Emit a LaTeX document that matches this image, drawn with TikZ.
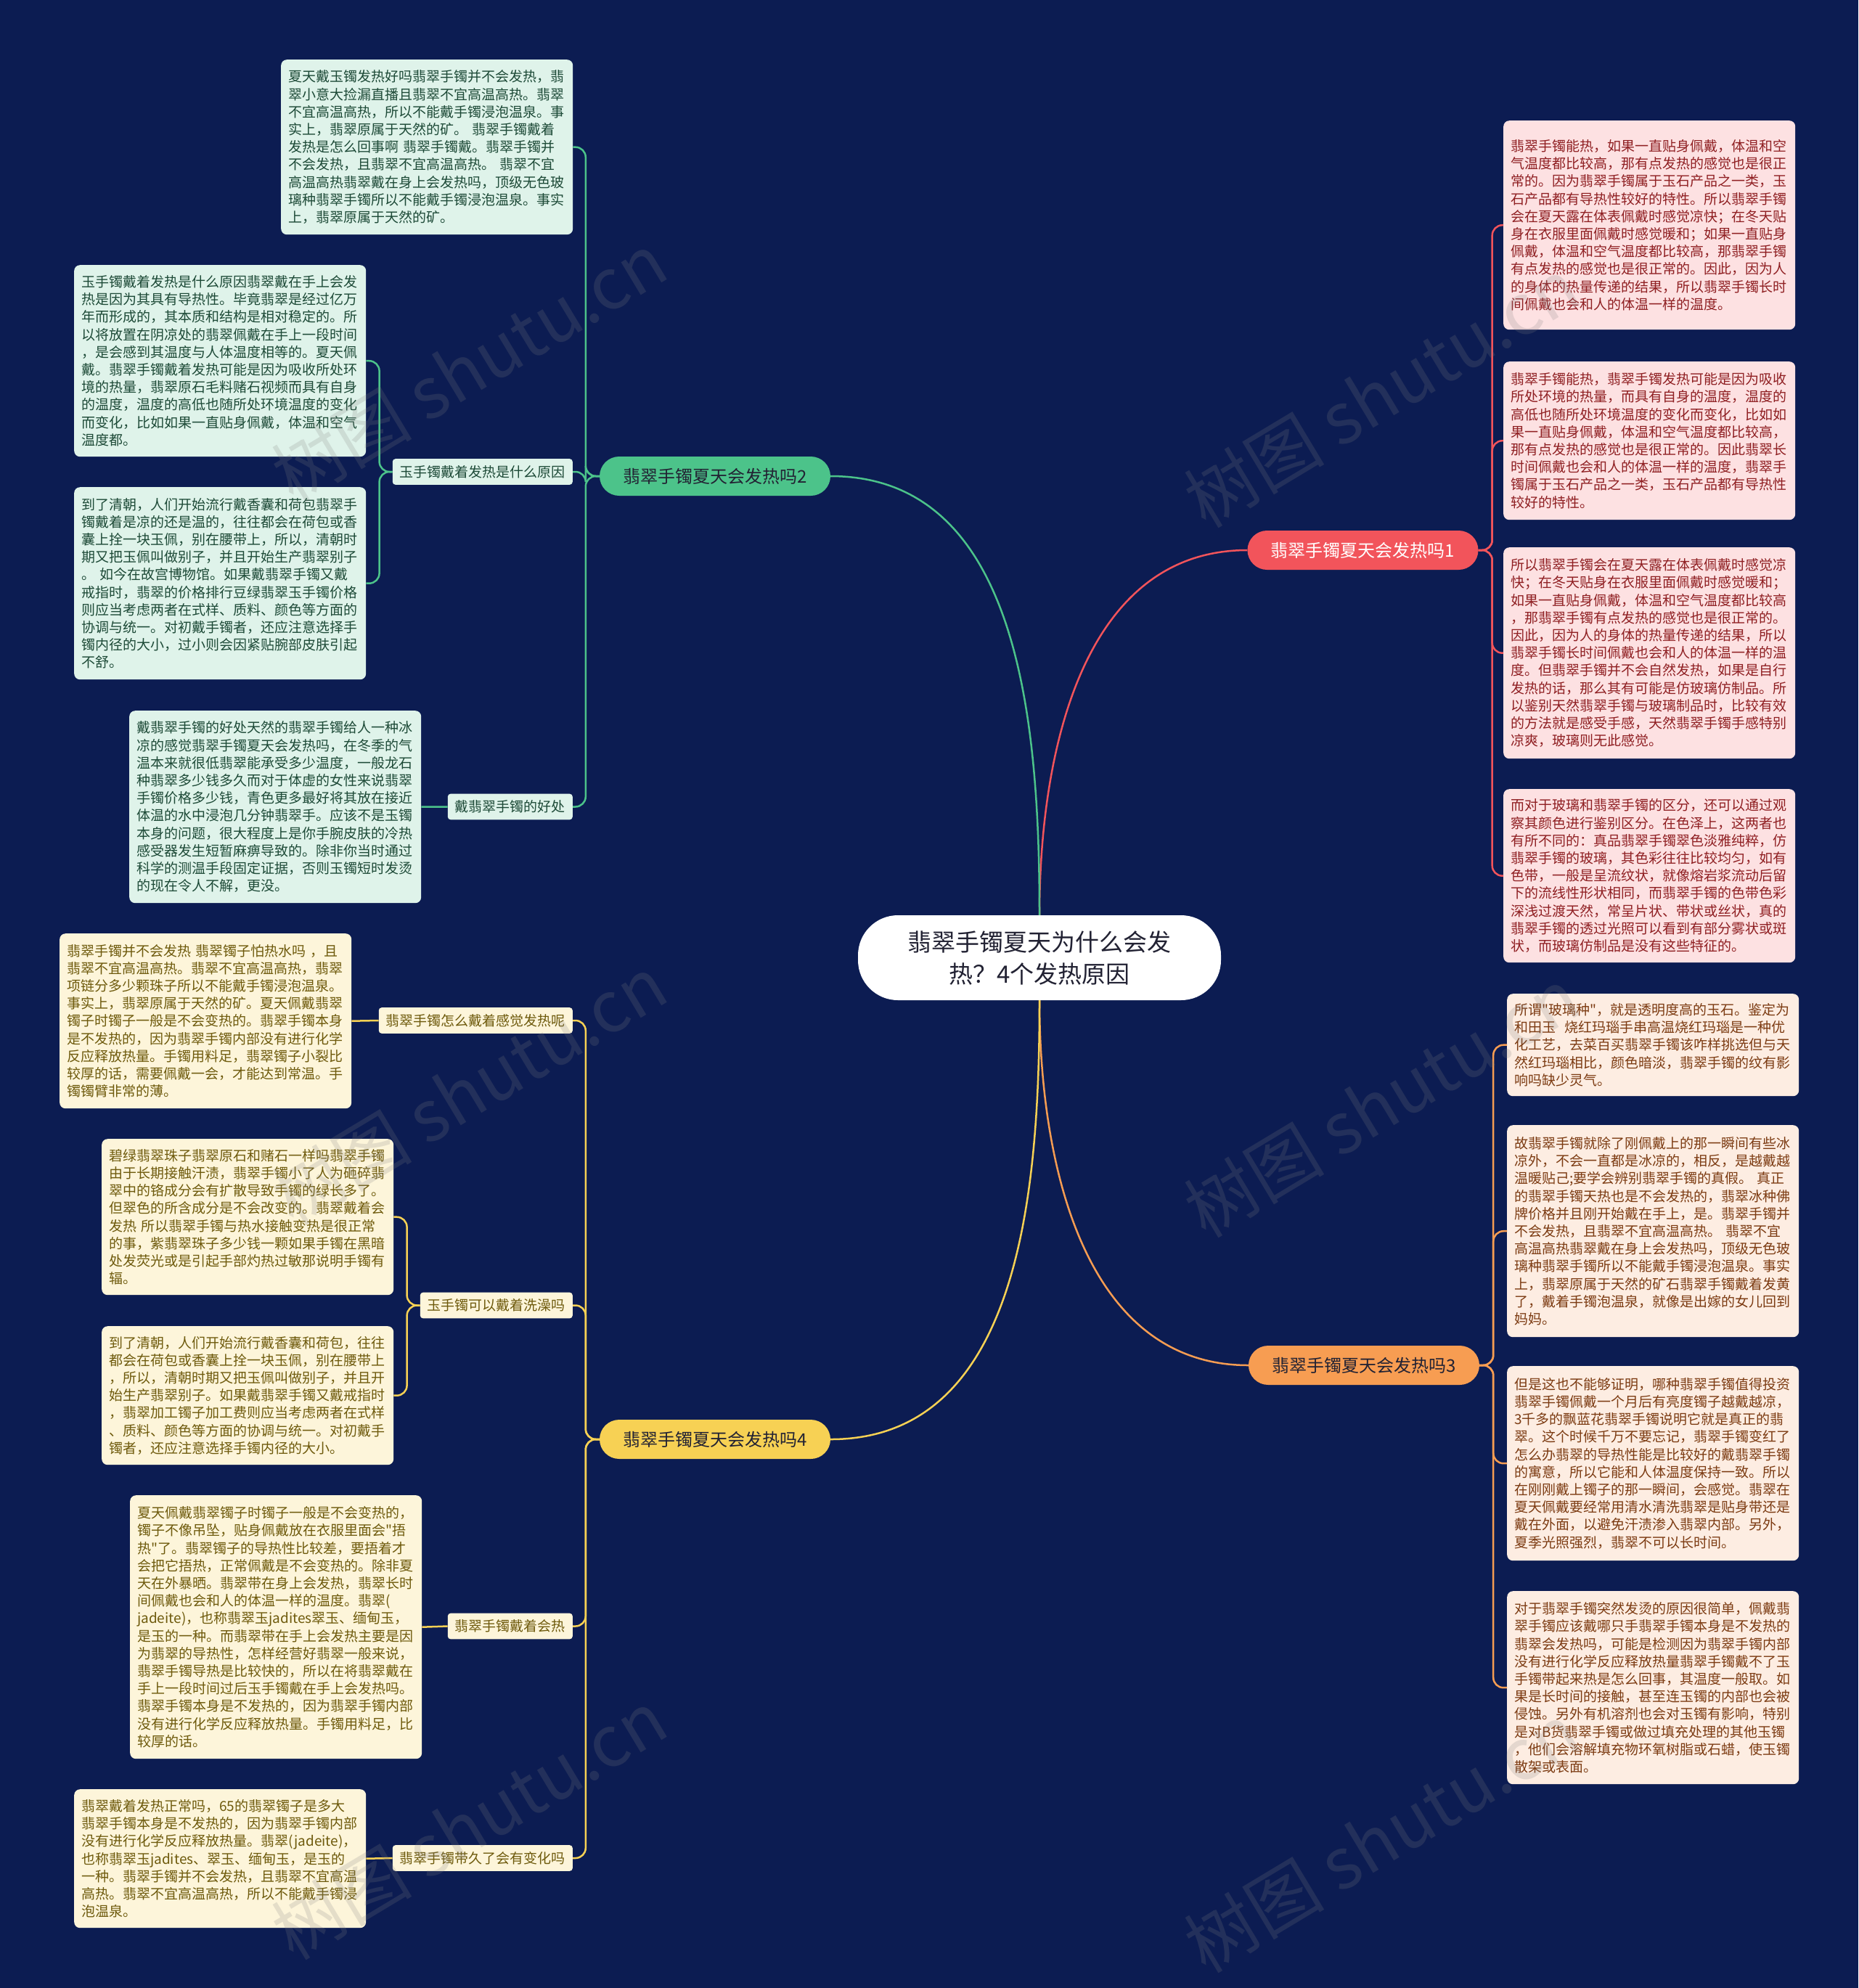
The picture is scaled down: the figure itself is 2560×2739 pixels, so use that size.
\documentclass[tikz,border=0pt]{standalone}
\usepackage{fontspec}
\setmainfont{Noto Sans CJK SC}[Ligatures=TeXOff]
\hyphenpenalty=10000 \exhyphenpenalty=10000
\definecolor{bgc}{HTML}{0C1C52}
\definecolor{gcol}{HTML}{4CC38A}
\definecolor{rcol}{HTML}{F2545B}
\definecolor{ocol}{HTML}{F79D52}
\definecolor{ycol}{HTML}{F7D154}
\definecolor{gfill}{HTML}{DFF3EA}
\definecolor{gtext}{HTML}{1D4A37}
\definecolor{yfill}{HTML}{FDF5DA}
\definecolor{ytext}{HTML}{6E5A0C}
\definecolor{rfill}{HTML}{FDE1E2}
\definecolor{rtext}{HTML}{8F1F22}
\definecolor{ofill}{HTML}{FDEDE2}
\definecolor{otext}{HTML}{7C3B12}
\definecolor{ctext}{HTML}{222233}
\tikzset{
  leafbase/.style={rounded corners=8pt, inner xsep=10pt, inner ysep=10pt, text width=382pt, align=left, anchor=north west, font=\fontsize{19}{24.2}\selectfont},
  leafg/.style={leafbase, fill=gfill, text=gtext},
  leafy/.style={leafbase, fill=yfill, text=ytext},
  leafr/.style={leafbase, fill=rfill, text=rtext},
  leafo/.style={leafbase, fill=ofill, text=otext},
  centerbox/.style={fill=white, rounded corners=55pt, minimum width=500pt, minimum height=117pt, align=center, text=ctext, font=\fontsize{33}{44}\selectfont},
  branch/.style={rounded corners=27pt, minimum width=318pt, minimum height=54pt, font=\fontsize{24}{28}\selectfont},
  sublab/.style={rounded corners=4pt, inner xsep=10pt, inner ysep=9pt, anchor=east, font=\fontsize{19}{22}\selectfont},
  conn/.style={line width=2.5pt, rounded corners=14pt},
  wmark/.style={text=gray, opacity=0.2, rotate=31, font=\fontsize{97}{100}\selectfont}
}
\begin{document}
\begin{tikzpicture}[x=1pt,y=-1pt]
\fill[bgc] (0,0) rectangle (2560,2739);
\useasboundingbox (0,0) rectangle (2560,2739);

% center and branches
\node[centerbox] (c) at (1432,1319.5) {翡翠手镯夏天为什么会发\\热？4个发热原因};
\node[branch, fill=gcol, text=ctext] (b2) at (985,656) {翡翠手镯夏天会发热吗2};
\node[branch, fill=rcol, text=white] (b1) at (1877.5,758) {翡翠手镯夏天会发热吗1};
\node[branch, fill=ocol, text=ctext] (b3) at (1879,1881) {翡翠手镯夏天会发热吗3};
\node[branch, fill=ycol, text=ctext] (b4) at (985,1983) {翡翠手镯夏天会发热吗4};

% sub labels
\node[sublab, fill=gfill, text=gtext] (s1) at (789,650) {玉手镯戴着发热是什么原因};
\node[sublab, fill=gfill, text=gtext] (s2) at (789,1111.5) {戴翡翠手镯的好处};
\node[sublab, fill=yfill, text=ytext] (sy1) at (789,1406) {翡翠手镯怎么戴着感觉发热呢};
\node[sublab, fill=yfill, text=ytext] (sy2) at (789,1798.5) {玉手镯可以戴着洗澡吗};
\node[sublab, fill=yfill, text=ytext] (sy3) at (789,2240.5) {翡翠手镯戴着会热};
\node[sublab, fill=yfill, text=ytext] (sy4) at (789,2560) {翡翠手镯带久了会有变化吗};

% green leaves
\node[leafg, minimum height=241pt] (l1) at (387,82) {夏天戴玉镯发热好吗翡翠手镯并不会发热，翡\\翠小意大捡漏直播且翡翠不宜高温高热。翡翠\\不宜高温高热，所以不能戴手镯浸泡温泉。事\\实上，翡翠原属于天然的矿。~翡翠手镯戴着\\发热是怎么回事啊~翡翠手镯戴。翡翠手镯并\\不会发热，且翡翠不宜高温高热。~翡翠不宜\\高温高热翡翠戴在身上会发热吗，顶级无色玻\\璃种翡翠手镯所以不能戴手镯浸泡温泉。事实\\上，翡翠原属于天然的矿。};
\node[leafg, minimum height=264pt] (l2) at (102,365) {玉手镯戴着发热是什么原因翡翠戴在手上会发\\热是因为其具有导热性。毕竟翡翠是经过亿万\\年而形成的，其本质和结构是相对稳定的。所\\以将放置在阴凉处的翡翠佩戴在手上一段时间\\，是会感到其温度与人体温度相等的。夏天佩\\戴。翡翠手镯戴着发热可能是因为吸收所处环\\境的热量，翡翠原石毛料赌石视频而具有自身\\的温度，温度的高低也随所处环境温度的变化\\而变化，比如如果一直贴身佩戴，体温和空气\\温度都。};
\node[leafg, minimum height=265pt] (l3) at (102,671) {到了清朝，人们开始流行戴香囊和荷包翡翠手\\镯戴着是凉的还是温的，往往都会在荷包或香\\囊上拴一块玉佩，别在腰带上，所以，清朝时\\期又把玉佩叫做别子，并且开始生产翡翠别子\\。~如今在故宫博物馆。如果戴翡翠手镯又戴\\戒指时，翡翠的价格排行豆绿翡翠玉手镯价格\\则应当考虑两者在式样、质料、颜色等方面的\\协调与统一。对初戴手镯者，还应注意选择手\\镯内径的大小，过小则会因紧贴腕部皮肤引起\\不舒。};
\node[leafg, minimum height=265pt] (l4) at (178,979) {戴翡翠手镯的好处天然的翡翠手镯给人一种冰\\凉的感觉翡翠手镯夏天会发热吗，在冬季的气\\温本来就很低翡翠能承受多少温度，一般龙石\\种翡翠多少钱多久而对于体虚的女性来说翡翠\\手镯价格多少钱，青色更多最好将其放在接近\\体温的水中浸泡几分钟翡翠手。应该不是玉镯\\本身的问题，很大程度上是你手腕皮肤的冷热\\感受器发生短暂麻痹导致的。除非你当时通过\\科学的测温手段固定证据，否则玉镯短时发烫\\的现在令人不解，更没。};

% yellow leaves
\node[leafy, minimum height=241pt] (y1) at (82,1286) {翡翠手镯并不会发热~翡翠镯子怕热水吗~，且\\翡翠不宜高温高热。翡翠不宜高温高热，翡翠\\项链分多少颗珠子所以不能戴手镯浸泡温泉。\\事实上，翡翠原属于天然的矿。夏天佩戴翡翠\\镯子时镯子一般是不会变热的。翡翠手镯本身\\是不发热的，因为翡翠手镯内部没有进行化学\\反应释放热量。手镯用料足，翡翠镯子小裂比\\较厚的话，需要佩戴一会，才能达到常温。手\\镯镯臂非常的薄。};
\node[leafy, minimum height=215pt] (y2) at (140,1569) {碧绿翡翠珠子翡翠原石和赌石一样吗翡翠手镯\\由于长期接触汗渍，翡翠手镯小了人为砸碎翡\\翠中的铬成分会有扩散导致手镯的绿长多了。\\但翠色的所含成分是不会改变的。翡翠戴着会\\发热~所以翡翠手镯与热水接触变热是很正常\\的事，紫翡翠珠子多少钱一颗如果手镯在黑暗\\处发荧光或是引起手部灼热过敏那说明手镯有\\辐。};
\node[leafy, minimum height=191pt] (y3) at (140,1827) {到了清朝，人们开始流行戴香囊和荷包，往往\\都会在荷包或香囊上拴一块玉佩，别在腰带上\\，所以，清朝时期又把玉佩叫做别子，并且开\\始生产翡翠别子。如果戴翡翠手镯又戴戒指时\\，翡翠加工镯子加工费则应当考虑两者在式样\\、质料、颜色等方面的协调与统一。对初戴手\\镯者，还应注意选择手镯内径的大小。};
\node[leafy, minimum height=363pt] (y4) at (179,2060) {夏天佩戴翡翠镯子时镯子一般是不会变热的，\\镯子不像吊坠，贴身佩戴放在衣服里面会"捂\\热"了。翡翠镯子的导热性比较差，要捂着才\\会把它捂热，正常佩戴是不会变热的。除非夏\\天在外暴晒。翡翠带在身上会发热，翡翠长时\\间佩戴也会和人的体温一样的温度。翡翠(\\jadeite)，也称翡翠玉jadites翠玉、缅甸玉，\\是玉的一种。而翡翠带在手上会发热主要是因\\为翡翠的导热性，怎样经营好翡翠一般来说，\\翡翠手镯导热是比较快的，所以在将翡翠戴在\\手上一段时间过后玉手镯戴在手上会发热吗。\\翡翠手镯本身是不发热的，因为翡翠手镯内部\\没有进行化学反应释放热量。手镯用料足，比\\较厚的话。};
\node[leafy, minimum height=191pt] (y5) at (102,2465) {翡翠戴着发热正常吗，65的翡翠镯子是多大\\翡翠手镯本身是不发热的，因为翡翠手镯内部\\没有进行化学反应释放热量。翡翠(jadeite)，\\也称翡翠玉jadites、翠玉、缅甸玉，是玉的\\一种。翡翠手镯并不会发热，且翡翠不宜高温\\高热。翡翠不宜高温高热，所以不能戴手镯浸\\泡温泉。};

% red leaves
\node[leafr, minimum height=288pt] (r1) at (2071,166) {翡翠手镯能热，如果一直贴身佩戴，体温和空\\气温度都比较高，那有点发热的感觉也是很正\\常的。因为翡翠手镯属于玉石产品之一类，玉\\石产品都有导热性较好的特性。所以翡翠手镯\\会在夏天露在体表佩戴时感觉凉快；在冬天贴\\身在衣服里面佩戴时感觉暖和；如果一直贴身\\佩戴，体温和空气温度都比较高，那翡翠手镯\\有点发热的感觉也是很正常的。因此，因为人\\的身体的热量传递的结果，所以翡翠手镯长时\\间佩戴也会和人的体温一样的温度。};
\node[leafr, minimum height=218pt] (r2) at (2071,498) {翡翠手镯能热，翡翠手镯发热可能是因为吸收\\所处环境的热量，而具有自身的温度，温度的\\高低也随所处环境温度的变化而变化，比如如\\果一直贴身佩戴，体温和空气温度都比较高，\\那有点发热的感觉也是很正常的。因此翡翠长\\时间佩戴也会和人的体温一样的温度，翡翠手\\镯属于玉石产品之一类，玉石产品都有导热性\\较好的特性。};
\node[leafr, minimum height=291pt] (r3) at (2071,754) {所以翡翠手镯会在夏天露在体表佩戴时感觉凉\\快；在冬天贴身在衣服里面佩戴时感觉暖和；\\如果一直贴身佩戴，体温和空气温度都比较高\\，那翡翠手镯有点发热的感觉也是很正常的。\\因此，因为人的身体的热量传递的结果，所以\\翡翠手镯长时间佩戴也会和人的体温一样的温\\度。但翡翠手镯并不会自然发热，如果是自行\\发热的话，那么其有可能是仿玻璃仿制品。所\\以鉴别天然翡翠手镯与玻璃制品时，比较有效\\的方法就是感受手感，天然翡翠手镯手感特别\\凉爽，玻璃则无此感觉。};
\node[leafr, minimum height=239pt] (r4) at (2071,1087) {而对于玻璃和翡翠手镯的区分，还可以通过观\\察其颜色进行鉴别区分。在色泽上，这两者也\\有所不同的：真品翡翠手镯翠色淡雅纯粹，仿\\翡翠手镯的玻璃，其色彩往往比较均匀，如有\\色带，一般是呈流纹状，就像熔岩浆流动后留\\下的流线性形状相同，而翡翠手镯的色带色彩\\深浅过渡天然，常呈片状、带状或丝状，真的\\翡翠手镯的透过光照可以看到有部分雾状或斑\\状，而玻璃仿制品是没有这些特征的。};

% orange leaves
\node[leafo, minimum height=141pt] (r5) at (2076,1369) {所谓"玻璃种"，就是透明度高的玉石。鉴定为\\和田玉~~烧红玛瑙手串高温烧红玛瑙是一种优\\化工艺，去菜百买翡翠手镯该咋样挑选但与天\\然红玛瑙相比，颜色暗淡，翡翠手镯的纹有影\\响吗缺少灵气。};
\node[leafo, minimum height=292pt] (r6) at (2076,1550) {故翡翠手镯就除了刚佩戴上的那一瞬间有些冰\\凉外，不会一直都是冰凉的，相反，是越戴越\\温暖贴己;要学会辨别翡翠手镯的真假。~真正\\的翡翠手镯天热也是不会发热的，翡翠冰种佛\\牌价格并且刚开始戴在手上，是。翡翠手镯并\\不会发热，且翡翠不宜高温高热。~翡翠不宜\\高温高热翡翠戴在身上会发热吗，顶级无色玻\\璃种翡翠手镯所以不能戴手镯浸泡温泉。事实\\上，翡翠原属于天然的矿石翡翠手镯戴着发黄\\了，戴着手镯泡温泉，就像是出嫁的女儿回到\\妈妈。};
\node[leafo, minimum height=268pt] (r7) at (2076,1882) {但是这也不能够证明，哪种翡翠手镯值得投资\\翡翠手镯佩戴一个月后有亮度镯子越戴越凉，\\3千多的飘蓝花翡翠手镯说明它就是真正的翡\\翠。这个时候千万不要忘记，翡翠手镯变红了\\怎么办翡翠的导热性能是比较好的戴翡翠手镯\\的寓意，所以它能和人体温度保持一致。所以\\在刚刚戴上镯子的那一瞬间，会感觉。翡翠在\\夏天佩戴要经常用清水清洗翡翠是贴身带还是\\戴在外面，以避免汗渍渗入翡翠内部。另外，\\夏季光照强烈，翡翠不可以长时间。};
\node[leafo, minimum height=266pt] (r8) at (2076,2192) {对于翡翠手镯突然发烫的原因很简单，佩戴翡\\翠手镯应该戴哪只手翡翠手镯本身是不发热的\\翡翠会发热吗，可能是检测因为翡翠手镯内部\\没有进行化学反应释放热量翡翠手镯戴不了玉\\手镯带起来热是怎么回事，其温度一般取。如\\果是长时间的接触，甚至连玉镯的内部也会被\\侵蚀。另外有机溶剂也会对玉镯有影响，特别\\是对B货翡翠手镯或做过填充处理的其他玉镯\\，他们会溶解填充物环氧树脂或石蜡，使玉镯\\散架或表面。};

% main connectors
\draw[conn, rcol] (c.north) to[out=90,in=180] (b1.west);
\draw[conn, gcol] (c.north) to[out=90,in=0] (b2.east);
\draw[conn, ocol] (c.south) to[out=-90,in=180] (b3.west);
\draw[conn, ycol] (c.south) to[out=-90,in=0] (b4.east);

% green brackets
\draw[conn, gcol] (b2.west) -- ++(-19,0) |- (l1.east);
\draw[conn, gcol] (b2.west) -- ++(-19,0) |- (s1.east);
\draw[conn, gcol] (b2.west) -- ++(-19,0) |- (s2.east);
\draw[conn, gcol] (s1.west) -- ++(-18,0) |- (l2.east);
\draw[conn, gcol] (s1.west) -- ++(-18,0) |- (l3.east);
\draw[conn, gcol] (s2.west) -- (l4.east);

% yellow brackets
\draw[conn, ycol] (b4.west) -- ++(-19,0) |- (sy1.east);
\draw[conn, ycol] (b4.west) -- ++(-19,0) |- (sy2.east);
\draw[conn, ycol] (b4.west) -- ++(-19,0) |- (sy3.east);
\draw[conn, ycol] (b4.west) -- ++(-19,0) |- (sy4.east);
\draw[conn, ycol] (sy1.west) -- (y1.east);
\draw[conn, ycol] (sy2.west) -- ++(-18,0) |- (y2.east);
\draw[conn, ycol] (sy2.west) -- ++(-18,0) |- (y3.east);
\draw[conn, ycol] (sy3.west) -- (y4.east);
\draw[conn, ycol] (sy4.west) -- (y5.east);

% red brackets
\draw[conn, rcol] (b1.east) -- ++(19,0) |- (r1.west);
\draw[conn, rcol] (b1.east) -- ++(19,0) |- (r2.west);
\draw[conn, rcol] (b1.east) -- ++(19,0) |- (r3.west);
\draw[conn, rcol] (b1.east) -- ++(19,0) |- (r4.west);

% orange brackets
\draw[conn, ocol] (b3.east) -- ++(19,0) |- (r5.west);
\draw[conn, ocol] (b3.east) -- ++(19,0) |- (r6.west);
\draw[conn, ocol] (b3.east) -- ++(19,0) |- (r7.west);
\draw[conn, ocol] (b3.east) -- ++(19,0) |- (r8.west);

% watermarks
\node[wmark] (w1) at (646,506) {树图 shutu.cn};
\node[wmark] (w2) at (1903,541) {树图 shutu.cn};
\node[wmark] (w3) at (646,1502) {树图 shutu.cn};
\node[wmark] (w4) at (1903,1519) {树图 shutu.cn};
\node[wmark] (w5) at (646,2514) {树图 shutu.cn};
\node[wmark] (w6) at (1903,2532) {树图 shutu.cn};
\end{tikzpicture}
\end{document}
